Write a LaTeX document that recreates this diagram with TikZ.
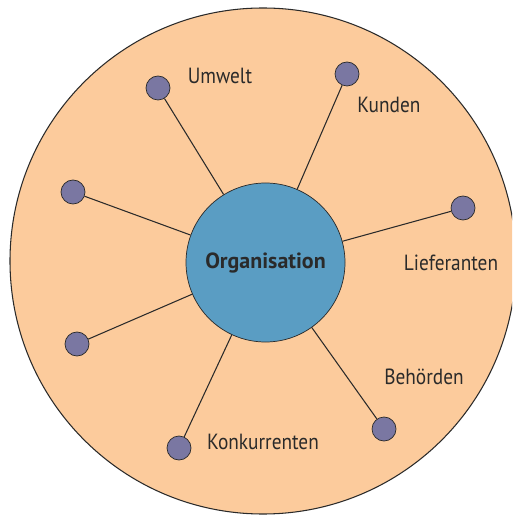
\documentclass[tikz,border=0pt]{standalone}
\usepackage{fontspec}
\setmainfont[FakeStretch=0.88]{PT Sans}
\newfontfamily\orgfont{PT Sans}
\usepackage{xcolor}
\usetikzlibrary{positioning}

\definecolor{peach}{HTML}{FCCB9C}
\definecolor{orgblue}{HTML}{5A9DC3}
\definecolor{dotviolet}{HTML}{7A77A2}
\definecolor{inkgrey}{HTML}{2A2A2A}

\begin{document}
\begin{tikzpicture}[x=0.02cm, y=-0.02cm,
    every node/.style={font=\fontsize{12.5}{14}\selectfont, text=inkgrey},
    dot/.style={circle, draw=inkgrey, fill=dotviolet, minimum size=24*0.02cm, inner sep=0pt},
    org/.style={circle, draw=inkgrey, fill=orgblue, minimum size=159*0.02cm, inner sep=0pt, font=\orgfont\fontsize{12.5}{14}\selectfont\bfseries},
    spoke/.style={draw=inkgrey, line width=0.6pt}]

    \useasboundingbox (0,0) rectangle (512,516);
    \clip (0,0) rectangle (512,516);

    % Environment
    \draw[inkgrey, fill=peach, line width=0.6pt] (263,261) circle (253);

    % Nodes
    \node[org] (organisation) at (265.5,262.5) {Organisation};
    \node[dot] (umwelt) at (158,88) {};
    \node[dot] (kunden) at (347,74) {};
    \node[dot] (lieferanten) at (463,208) {};
    \node[dot] (behoerden) at (384,429) {};
    \node[dot] (konkurrenten) at (179,448) {};
    \node[dot] (links1) at (73,192) {};
    \node[dot] (links2) at (77,344) {};

    % Edges
    \draw[spoke] (umwelt) -- (organisation);
    \draw[spoke] (kunden) -- (organisation);
    \draw[spoke] (lieferanten) -- (organisation);
    \draw[spoke] (behoerden) -- (organisation);
    \draw[spoke] (konkurrenten) -- (organisation);
    \draw[spoke] (links1) -- (organisation);
    \draw[spoke] (links2) -- (organisation);

    % Labels
    \node at (220,76) {Umwelt};
    \node at (389,105) {Kunden};
    \node at (451,263) {Lieferanten};
    \node at (424,377) {Behörden};
    \node at (263,442) {Konkurrenten};
\end{tikzpicture}
\end{document}
